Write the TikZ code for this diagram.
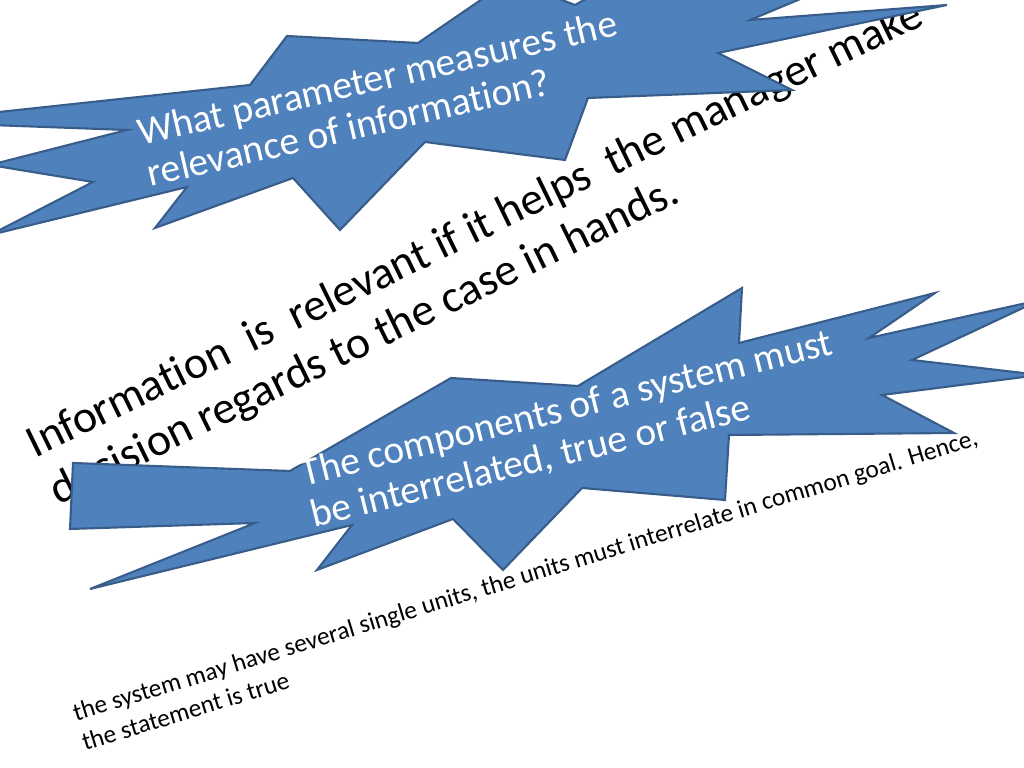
\documentclass[tikz,border=0pt]{standalone}
\usepackage{fontspec}
\setmainfont{Carlito}[Ligatures=NoCommon]
\definecolor{burst}{HTML}{4F81BD}
\definecolor{burstline}{HTML}{385D8A}
\begin{document}
\begin{tikzpicture}[x=0.01cm,y=-0.01cm]
\tikzset{burst/.style={fill=burst,draw=burstline,line width=0.6pt,line join=miter},
  qtext/.style={text=white,align=left,inner sep=0pt},
  atext/.style={text=black,align=left,inner sep=0pt}}
\useasboundingbox (0,0) rectangle (1024,768);
\node [atext,rotate=26,font=\fontsize{13}{15}\selectfont] (answer1) at (487,254)
  {Information\ \ is\ \ relevant if it helps\ \ the manager make\\decision regards to the case in hands.};
\begin{scope}
\clip (0,0) rectangle (1024,768);
% upper burst
\draw [burst] (-10,113) -- (250,85) -- (287,36) -- (418,43) -- (510,-20) -- (575,5) -- (620,-20)
  -- (810,-5) -- (750,20) -- (947,5) -- (718,53) -- (792,90) -- (588,98) -- (565,160) -- (425,142)
  -- (340,230) -- (293,178) -- (155,228) -- (187,187) -- (-10,235) -- (93,182) -- (-10,165)
  -- (127,130) -- (-10,125) -- cycle;
% lower burst
\draw [burst] (73,463) -- (290,471) -- (451,378) -- (578,386) -- (742,288) -- (739,343) -- (935,293)
  -- (869,338) -- (1040,300) -- (912,360) -- (1040,375) -- (882,395) -- (954,433) -- (729,435)
  -- (725,500) -- (582,488) -- (503,570) -- (453,519) -- (317,570) -- (352,525) -- (90,589)
  -- (255,523) -- (70,529) -- cycle;
\end{scope}
\node [qtext,rotate=13,font=\fontsize{11.2}{12}\selectfont] (question1) at (382,98)
  {What parameter measures the\\relevance of information?};
\node [qtext,rotate=14,font=\fontsize{11.2}{12.2}\selectfont] (question2) at (572,430)
  {The components of a system must\\be interrelated, true or false};
\node [atext,rotate=17,anchor=north west,font=\fontsize{7.2}{8.8}\selectfont] (answer2) at (70,704)
  {the system may have several single units, the units must interrelate in common goal. Hence,\\the statement is true};
\end{tikzpicture}
\end{document}
